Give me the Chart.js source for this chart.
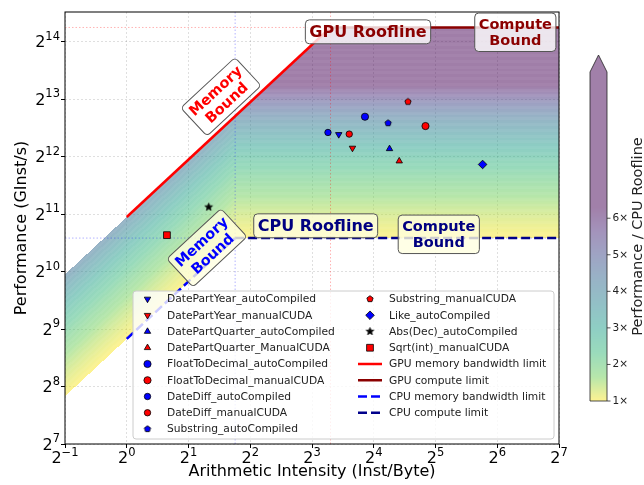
<!DOCTYPE html>
<html>
<head>
<meta charset="utf-8">
<script src="https://cdn.jsdelivr.net/npm/chart.js@4.4.1/dist/chart.umd.min.js"></script>
<style>
  html, body { margin: 0; padding: 0; background: #fff; }
</style>
</head>
<body>
<canvas id="roofline" width="644" height="485"></canvas>
<script>
// kernels
const kernelNames = [
  'DatePartYear_autoCompiled', 'DatePartYear_manualCUDA',
  'DatePartQuarter_autoCompiled', 'DatePartQuarter_ManualCUDA',
  'FloatToDecimal_autoCompiled', 'FloatToDecimal_manualCUDA',
  'DateDiff_autoCompiled', 'DateDiff_manualCUDA',
  'Substring_autoCompiled', 'Substring_manualCUDA',
  'Like_autoCompiled', 'Abs(Dec)_autoCompiled', 'Sqrt(int)_manualCUDA'
];
const intensity = [10.8, 12.6, 19.1, 21.3, 14.5, 28.6, 9.57, 12.15, 18.8, 23.5, 54.3, 2.51, 1.57];
const performance = [5363, 4551, 4510, 3889, 6641, 5935, 5492, 5386, 6152, 7958, 3733, 2232, 1591];

// machine limits (GInst/s, GB/s)
const gpuBandwidth = 1980;
const gpuPeak = 19500;
const cpuBandwidth = 455;
const cpuPeak = 1536;

// axes
const xTicks = [0.5, 1, 2, 4, 8, 16, 32, 64, 128];
const yTicks = [128, 256, 512, 1024, 2048, 4096, 8192, 16384];
const yMax = 23500;
const ratioTicks = [1, 2, 3, 4, 5, 6];
const ratioMax = 10;

const gpuRidge = gpuPeak / gpuBandwidth;
const cpuRidge = cpuPeak / cpuBandwidth;

//style
const markerShapes = ['triangleDown', 'triangleDown', 'triangle', 'triangle', 'circle', 'circle',
  'circle', 'circle', 'pentagon', 'pentagon', 'rectRot', 'star', 'rect'];
const markerRadius = [3.7, 3.7, 3.7, 3.7, 3.6, 3.6, 3.2, 3.2, 3.3, 3.3, 4.3, 4, 4.8];

const viridis = [[68, 1, 84], [72, 40, 120], [62, 74, 137], [49, 104, 142], [38, 130, 142],
  [31, 158, 137], [53, 183, 121], [110, 206, 88], [253, 231, 37]];

const viridisAt = (t) => {
  const p = t * (viridis.length - 1);
  const i = Math.min(Math.floor(p), viridis.length - 2);
  const f = p - i;
  return viridis[i].map((c, k) => c + (viridis[i + 1][k] - c) * f);
};
const ratioColor = (r) => viridisAt(1 - Math.min(Math.max((r - 1) / 5.3, 0), 1));

const markerColor = (name) => name.startsWith('Abs') ? '#000000' : (name.includes('auto') ? '#0000ff' : '#ff0000');

const polyCanvas = (kind, r, fill) => {
  const s = Math.ceil(r * 2 + 3);
  const c = document.createElement('canvas');
  c.width = s; c.height = s;
  const g = c.getContext('2d');
  g.translate(s / 2, s / 2);
  const n = kind === 'star' ? 10 : 5;
  g.beginPath();
  for (let i = 0; i < n; i++) {
    const a = -Math.PI / 2 + i * 2 * Math.PI / n;
    const rr = (kind === 'star' && i % 2) ? r * 0.42 : r;
    g.lineTo(rr * Math.cos(a), rr * Math.sin(a));
  }
  g.closePath();
  g.fillStyle = fill;
  g.fill();
  g.lineWidth = 0.8;
  g.strokeStyle = '#000';
  g.stroke();
  return c;
};

const pointStyleFor = (shape, r, color) => {
  if (shape === 'pentagon' || shape === 'star') return { pointStyle: polyCanvas(shape, r, color), rotation: 0 };
  if (shape === 'triangleDown') return { pointStyle: 'triangle', rotation: 180 };
  return { pointStyle: shape, rotation: 0 };
};

const kernelDatasets = kernelNames.map((name, i) => {
  const color = markerColor(name);
  const ps = pointStyleFor(markerShapes[i], markerRadius[i], color);
  return {
    label: name,
    data: [{ x: intensity[i], y: performance[i] }],
    backgroundColor: color,
    borderColor: '#000',
    borderWidth: 0.8,
    pointRadius: markerRadius[i],
    pointStyle: ps.pointStyle,
    rotation: ps.rotation,
    showLine: false,
  };
});

const lineDs = (label, pts, color, dash, width) => ({
  label: label,
  data: pts,
  borderColor: color,
  backgroundColor: color,
  borderWidth: width,
  borderDash: dash,
  showLine: true,
  pointRadius: 0,
  fill: false,
});

const rooflineDatasets = [
  lineDs('GPU memory bandwidth limit', [{ x: 1, y: gpuBandwidth }, { x: gpuRidge, y: gpuPeak }], '#ff0000', [], 2.5),
  lineDs('GPU compute limit', [{ x: gpuRidge, y: gpuPeak }, { x: xTicks[xTicks.length - 1], y: gpuPeak }], '#8b0000', [], 2.5),
  lineDs('CPU memory bandwidth limit', [{ x: 1, y: cpuBandwidth }, { x: cpuRidge, y: cpuPeak }], '#0000ff', [9, 4], 2.5),
  lineDs('CPU compute limit', [{ x: cpuRidge, y: cpuPeak }, { x: xTicks[xTicks.length - 1], y: cpuPeak }], '#00008b', [9, 4], 2.5),
];

const guideDatasets = [
  lineDs('', [{ x: gpuRidge, y: yTicks[0] }, { x: gpuRidge, y: yMax }], 'rgba(255,0,0,0.3)', [1.5, 2], 1),
  lineDs('', [{ x: cpuRidge, y: yTicks[0] }, { x: cpuRidge, y: yMax }], 'rgba(0,0,255,0.3)', [1.5, 2], 1),
  lineDs('', [{ x: xTicks[0], y: gpuPeak }, { x: xTicks[xTicks.length - 1], y: gpuPeak }], 'rgba(255,0,0,0.3)', [1.5, 2], 1),
  lineDs('', [{ x: xTicks[0], y: cpuPeak }, { x: xTicks[xTicks.length - 1], y: cpuPeak }], 'rgba(0,0,255,0.3)', [1.5, 2], 1),
];

// text boxes (anchored in data coords)
const boxLabels = [
  { lines: ['GPU Roofline'], x: 15, y: 18500, color: '#8b0000', fill: 'rgba(255,255,255,0.8)', size: 16, rotate: false },
  { lines: ['Compute', 'Bound'], x: 78.4, y: 18400, color: '#8b0000', fill: 'rgba(255,255,255,0.8)', size: 14.5, rotate: false },
  { lines: ['Memory', 'Bound'], x: 2.88, y: 8448, color: '#ff0000', fill: 'rgba(255,255,255,0.8)', size: 14.5, rotate: true },
  { lines: ['CPU Roofline'], x: 8.34, y: 1781, color: '#000080', fill: 'rgba(255,255,224,0.8)', size: 16, rotate: false },
  { lines: ['Compute', 'Bound'], x: 33.2, y: 1607, color: '#000080', fill: 'rgba(255,255,224,0.8)', size: 14.5, rotate: false },
  { lines: ['Memory', 'Bound'], x: 2.46, y: 1365, color: '#0000ff', fill: 'rgba(255,255,224,0.8)', size: 14.5, rotate: true },
];

// 2^n label, base plus raised exponent
const drawPow = (ctx, v, x, y, align) => {
  const e = String(Math.round(Math.log2(v))).replace('-', '\u2212');
  ctx.font = '16px "DejaVu Sans"';
  const bw = ctx.measureText('2').width;
  ctx.font = '11.5px "DejaVu Sans"';
  const ew = ctx.measureText(e).width;
  const x0 = align === 'right' ? x - bw - ew : x - (bw + ew) / 2;
  ctx.font = '16px "DejaVu Sans"';
  ctx.fillText('2', x0, y);
  ctx.font = '11.5px "DejaVu Sans"';
  ctx.fillText(e, x0 + bw, y - 7.5);
};

const drawMarker = (ctx, ds, x, y) => {
  ctx.save();
  ctx.fillStyle = ds.backgroundColor;
  ctx.strokeStyle = ds.borderColor;
  ctx.lineWidth = ds.borderWidth;
  Chart.helpers.drawPoint(ctx, { pointStyle: ds.pointStyle, rotation: ds.rotation || 0, radius: ds.pointRadius, borderWidth: ds.borderWidth }, x, y);
  ctx.restore();
};

const shade = {
  id: 'shade',
  beforeDatasetsDraw(chart) {
    const { ctx, chartArea: a, scales: { x, y } } = chart;
    const w = Math.round(a.right - a.left), h = Math.round(a.bottom - a.top);
    const off = document.createElement('canvas');
    off.width = w; off.height = h;
    const g = off.getContext('2d');
    const img = g.createImageData(w, h);
    for (let i = 0; i < w; i++) {
      const ai = x.getValueForPixel(a.left + i + 0.5);
      const top = Math.min(gpuBandwidth * ai, gpuPeak);
      const base = Math.min(cpuBandwidth * ai, cpuPeak);
      const y0 = Math.max(0, Math.round(y.getPixelForValue(top) - a.top));
      const y1 = Math.min(h, Math.round(y.getPixelForValue(base) - a.top));
      for (let j = y0; j < y1; j++) {
        const perf = y.getValueForPixel(a.top + j + 0.5);
        const ratio = perf / base;
        const c = ratioColor(ratio);
        const band = Math.floor(Math.log2(ratio) / 0.05) % 2;
        const k = (j * w + i) * 4;
        img.data[k] = c[0]; img.data[k + 1] = c[1]; img.data[k + 2] = c[2];
        img.data[k + 3] = band ? 124 : 130;
      }
    }
    g.putImageData(img, 0, 0);
    ctx.drawImage(off, a.left, a.top);
  }
};

const annotate = {
  id: 'annotate',
  afterDatasetsDraw(chart) {
    const { ctx, chartArea: a, scales: { x, y } } = chart;
    const slope = Math.atan2(y.getPixelForValue(gpuBandwidth) - y.getPixelForValue(2 * gpuBandwidth),
      x.getPixelForValue(2) - x.getPixelForValue(1));

    // spines
    ctx.save();
    ctx.strokeStyle = '#000';
    ctx.lineWidth = 1;
    ctx.strokeRect(a.left, a.top, a.right - a.left, a.bottom - a.top);
    ctx.restore();

    // tick labels
    ctx.save();
    ctx.fillStyle = '#000';
    ctx.textBaseline = 'alphabetic';
    ctx.textAlign = 'left';
    xTicks.forEach(v => drawPow(ctx, v, x.getPixelForValue(v), a.bottom + 19, 'center'));
    yTicks.forEach(v => drawPow(ctx, v, a.left - 5, y.getPixelForValue(v) + 5.5, 'right'));
    ctx.restore();

    boxLabels.forEach(lb => {
      ctx.save();
      ctx.translate(x.getPixelForValue(lb.x), y.getPixelForValue(lb.y));
      if (lb.rotate) ctx.rotate(-slope);
      ctx.font = `bold ${lb.size}px "DejaVu Sans"`;
      const lh = lb.size * 1.12;
      const tw = Math.max(...lb.lines.map(t => ctx.measureText(t).width));
      const pad = 4;
      const bw = tw + pad * 2, bh = lh * lb.lines.length + pad * 2 - 2;
      ctx.beginPath();
      ctx.roundRect(-bw / 2, -bh / 2, bw, bh, 4);
      ctx.fillStyle = lb.fill;
      ctx.fill();
      ctx.strokeStyle = '#555';
      ctx.lineWidth = 1;
      ctx.stroke();
      ctx.fillStyle = lb.color;
      ctx.textAlign = 'center';
      ctx.textBaseline = 'middle';
      lb.lines.forEach((t, i) => ctx.fillText(t, 0, (i - (lb.lines.length - 1) / 2) * lh + 1));
      ctx.restore();
    });

    // legend
    const entries = chart.data.datasets.filter(ds => ds.label);
    const rows = 9, rowH = 16.25;
    const lx0 = 133, lx1 = a.right - 5, ly1 = a.bottom - 5, ly0 = 291;
    ctx.save();
    ctx.beginPath();
    ctx.roundRect(lx0, ly0, lx1 - lx0, ly1 - ly0, 3);
    ctx.fillStyle = 'rgba(255,255,255,0.8)';
    ctx.fill();
    ctx.strokeStyle = '#cccccc';
    ctx.lineWidth = 1;
    ctx.stroke();
    ctx.font = '10.7px "DejaVu Sans"';
    ctx.textBaseline = 'middle';
    entries.forEach((ds, i) => {
      const col = Math.floor(i / rows), row = i % rows;
      const mx = col ? 370 : 147.5;
      const tx = col ? 389 : 167;
      const my = 299 + row * rowH;
      if (ds.showLine) {
        ctx.save();
        ctx.strokeStyle = ds.borderColor;
        ctx.lineWidth = ds.borderWidth;
        ctx.setLineDash(ds.borderDash);
        ctx.beginPath();
        ctx.moveTo(mx - 12, my);
        ctx.lineTo(mx + 12, my);
        ctx.stroke();
        ctx.restore();
      } else {
        drawMarker(ctx, ds, mx, my);
      }
      ctx.fillStyle = '#222';
      ctx.fillText(ds.label, tx, my + 0.5);
    });
    ctx.restore();
  }
};

const colorbar = {
  id: 'colorbar',
  afterDraw(chart) {
    const { ctx } = chart;
    const left = 590, right = 607, top = 72, bottom = 401, tip = 55;
    const toPx = (r) => bottom - (r - ratioTicks[0]) / (ratioMax - ratioTicks[0]) * (bottom - top);
    ctx.save();
    for (let py = top; py < bottom; py++) {
      const r = ratioTicks[0] + (bottom - py - 0.5) / (bottom - top) * (ratioMax - ratioTicks[0]);
      const c = ratioColor(r);
      ctx.fillStyle = `rgba(${c[0]},${c[1]},${c[2]},0.5)`;
      ctx.fillRect(left, py, right - left, 1);
    }
    const cTop = ratioColor(ratioMax);
    ctx.beginPath();
    ctx.moveTo(left, top);
    ctx.lineTo((left + right) / 2, tip);
    ctx.lineTo(right, top);
    ctx.closePath();
    ctx.fillStyle = `rgba(${cTop[0]},${cTop[1]},${cTop[2]},0.5)`;
    ctx.fill();
    ctx.beginPath();
    ctx.moveTo(left, bottom);
    ctx.lineTo(left, top);
    ctx.lineTo((left + right) / 2, tip);
    ctx.lineTo(right, top);
    ctx.lineTo(right, bottom);
    ctx.closePath();
    ctx.strokeStyle = '#222';
    ctx.lineWidth = 0.8;
    ctx.stroke();
    ctx.font = '10.5px "DejaVu Sans"';
    ctx.fillStyle = '#222';
    ctx.textBaseline = 'middle';
    ratioTicks.forEach(r => {
      const py = toPx(r);
      ctx.beginPath();
      ctx.moveTo(right, py);
      ctx.lineTo(right + 3.5, py);
      ctx.stroke();
      ctx.fillText(r + '\u00d7', right + 5.5, py);
    });
    ctx.translate(638, (top + bottom) / 2);
    ctx.rotate(-Math.PI / 2);
    ctx.textAlign = 'center';
    ctx.font = '14.5px "DejaVu Sans"';
    ctx.fillText('Performance / CPU Roofline', 0, 0);
    ctx.restore();
  }
};

const gridOpts = {
  color: 'rgba(0,0,0,0.16)',
  lineWidth: 0.8,
  tickColor: '#000',
  tickLength: 4,
  tickWidth: 1,
  tickBorderDash: [],
};

Chart.defaults.font.family = '"DejaVu Sans"';
Chart.defaults.color = '#000';

const ctx = document.getElementById('roofline');
const rooflineChart = new Chart(ctx, {
  type: 'scatter',
  data: { datasets: [...kernelDatasets, ...rooflineDatasets, ...guideDatasets] },
  options: {
    responsive: false,
    animation: false,
    events: [],
    layout: { padding: { left: 0, right: 85, top: 12, bottom: 0 } },
    plugins: { legend: { display: false }, tooltip: { enabled: false } },
    scales: {
      x: {
        type: 'logarithmic',
        min: xTicks[0],
        max: xTicks[xTicks.length - 1],
        afterBuildTicks: (axis) => { axis.ticks = xTicks.map(v => ({ value: v })); },
        afterFit: (axis) => { axis.height = 41; },
        ticks: { display: false },
        grid: gridOpts,
        border: { display: false, dash: [2, 2] },
        title: { display: true, text: 'Arithmetic Intensity (Inst/Byte)', font: { size: 16 }, padding: { bottom: 4 } },
      },
      y: {
        type: 'logarithmic',
        min: yTicks[0],
        max: yMax,
        afterBuildTicks: (axis) => { axis.ticks = yTicks.map(v => ({ value: v })); },
        afterFit: (axis) => { axis.width = 65; },
        ticks: { display: false },
        grid: gridOpts,
        border: { display: false, dash: [2, 2] },
        title: { display: true, text: 'Performance (GInst/s)', font: { size: 16 }, padding: { top: 12 } },
      },
    },
  },
  plugins: [shade, annotate, colorbar],
});
</script>
</body>
</html>
